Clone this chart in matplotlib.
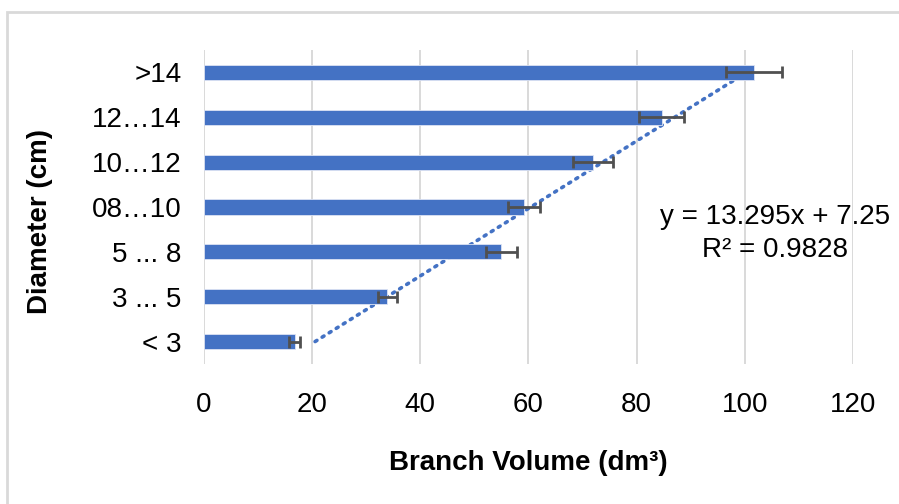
import matplotlib.pyplot as plt
from matplotlib.patches import Rectangle

plt.rcParams["font.family"] = ["Liberation Sans", "DejaVu Sans"]

categories = ["< 3", "3 ... 5", "5 ... 8", "08…10", "10…12", "12…14", ">14"]
volume = [16.8, 33.9, 55.0, 59.2, 72.0, 84.6, 101.7]
errors = [1.0, 1.7, 2.8, 2.9, 3.7, 4.2, 5.1]
slope, intercept = 13.295, 7.25

BLUE = "#4472C4"
GRID = "#D9D9D9"

fig = plt.figure(figsize=(8.99, 5.04), dpi=100)
ax = fig.add_axes([0.2269, 0.2778, 0.7219, 0.6230])

pos = list(range(len(categories)))
ax.barh(pos, volume, height=0.34, color=BLUE, edgecolor="#DCE3F3",
        linewidth=0.6, zorder=3)
ax.errorbar(volume, pos, xerr=errors, fmt="none", ecolor="#505050",
            elinewidth=2.0, capsize=4, capthick=2.0, zorder=4)

# linear trendline over category index 1..7, drawn under the bars
tx = [pos[0], pos[-1]]
ty = [slope * (p + 1) + intercept for p in tx]
ax.plot(ty, tx, color=BLUE, linestyle=(0, (0.6, 1.7)), linewidth=2.6,
        dash_capstyle="round", zorder=2)

fig.text(775 / 899, 1 - 217 / 504, f"y = {slope}x + {intercept}",
         ha="center", va="center", fontsize=20)
fig.text(775 / 899, 1 - 250 / 504, "R² = 0.9828", ha="center", va="center",
         fontsize=20)

ax.set_xlim(0, 120)
ax.set_ylim(-0.5, len(categories) - 0.5)
ax.set_xticks(range(0, 121, 20))
ax.set_yticks(pos)
ax.set_yticklabels(categories)
ax.tick_params(axis="both", length=0, labelsize=20)
ax.tick_params(axis="x", pad=20)
ax.tick_params(axis="y", pad=16)
for s in ax.spines.values():
    s.set_visible(False)
ax.grid(axis="x", color=GRID, linewidth=1.4, zorder=0)
ax.set_axisbelow(True)

ax.set_xlabel("Branch Volume (dm³)", fontsize=20, fontweight="bold", labelpad=23)
fig.text(40 / 899, 1 - 222 / 504, "Diameter (cm)", rotation=90, ha="center",
         va="center", fontsize=20, fontweight="bold")

fig.patches.append(Rectangle((7 / 899, -0.1), 1.2, 1 - 12 / 504 + 0.1,
                             transform=fig.transFigure, fill=False,
                             edgecolor=GRID, linewidth=2))

fig.savefig("out.png", dpi=100)
